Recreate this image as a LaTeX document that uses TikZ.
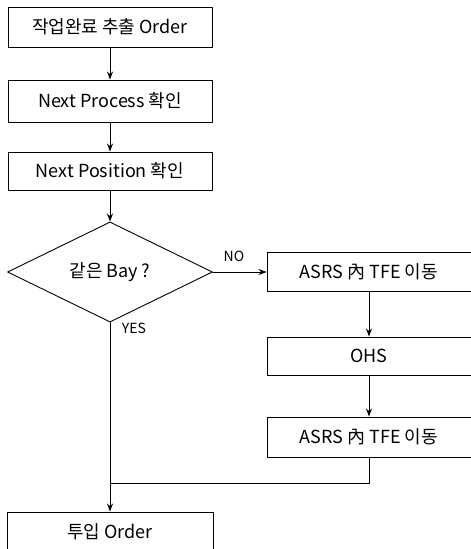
\documentclass[tikz,border=0pt]{standalone}
\usepackage{fontspec}
\setmainfont{Noto Sans CJK KR}
\usetikzlibrary{shapes.geometric,arrows.meta}
\tikzset{box/.style={draw,minimum width=204pt,minimum height=40pt,inner sep=0pt,font=\fontsize{18}{20}\selectfont},
	lbl/.style={font=\fontsize{14}{16}\selectfont}}
\begin{document}
\begin{tikzpicture}[>={Stealth[length=8pt,width=6pt]},line join=round,line cap=round,x=1pt,y=-1pt,line width=0.9pt]
	\useasboundingbox (0,0) rectangle (471,549);
	\node[box] (chuchul) at (110,27) {작업완료 추출 Order};
	\node[box,minimum height=42pt] (process) at (110,101) {Next Process 확인};
	\node[box,minimum height=38pt] (position) at (110,171) {Next Position 확인};
	\node[draw,diamond,minimum width=205pt,minimum height=63pt,inner sep=0pt,font=\fontsize{18}{20}\selectfont] (bay) at (110,272) {같은 Bay ?};
	\node[box,minimum height=39pt] (asrs1) at (369,272) {ASRS 內 TFE 이동};
	\node[box,minimum height=38pt] (ohs) at (369,356) {OHS};
	\node[box] (asrs2) at (369,437) {ASRS 內 TFE 이동};
	\node[box,minimum width=206pt] (tuip) at (110,532) {투입 Order};
	\node[lbl] (no) at (234,256) {NO};
	\node[lbl] (yes) at (134,328) {YES};
	\coordinate (hap) at (110,483);
	\draw[->] (chuchul)--(process);
	\draw[->] (process)--(position);
	\draw[->] (position)--(bay);
	\draw[->] (bay)--(asrs1);
	\draw[->] (asrs1)--(ohs);
	\draw[->] (ohs)--(asrs2);
	\draw (asrs2) |- (hap);
	\draw[->] (bay)--(tuip);
\end{tikzpicture}
\end{document}
